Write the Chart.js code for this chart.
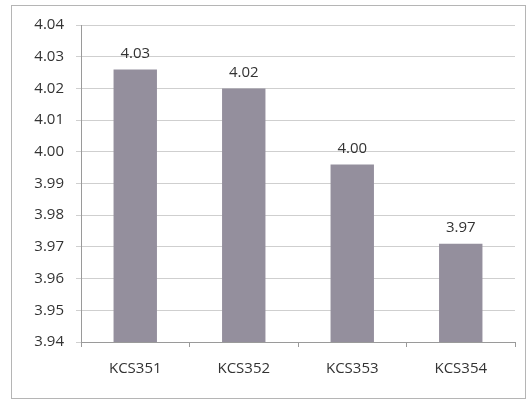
<!DOCTYPE html>
<html>
<head>
<meta charset="utf-8">
<script src="https://cdn.jsdelivr.net/npm/chart.js@4"></script>
<style>
html,body{margin:0;padding:0;background:#fff;}
#wrap{position:relative;width:527px;height:402px;}
</style>
</head>
<body>
<div id="wrap"><canvas id="c" width="527" height="402"></canvas></div>
<script>
const categories = ["KCS351", "KCS352", "KCS353", "KCS354"];
const values = [4.026, 4.020, 3.996, 3.971];
const yTickMin = 3.94;
const yTickMax = 4.04;
const yTickStep = 0.01;

const FONT = "'Open Sans', sans-serif";
const TEXT = "#333333";

const framePlugin = {
  id: 'frame',
  beforeDraw(chart) {
    const ctx = chart.ctx;
    ctx.save();
    ctx.fillStyle = '#ffffff';
    ctx.fillRect(0, 0, chart.width, chart.height);
    ctx.strokeStyle = '#b5b5b5';
    ctx.lineWidth = 1;
    ctx.strokeRect(11.5, 5.5, 514, 393);
    ctx.restore();
  }
};

const valueLabelPlugin = {
  id: 'valueLabels',
  afterDatasetsDraw(chart) {
    const ctx = chart.ctx;
    const meta = chart.getDatasetMeta(0);
    ctx.save();
    ctx.font = "15px " + FONT;
    ctx.fillStyle = TEXT;
    ctx.textAlign = 'center';
    ctx.textBaseline = 'bottom';
    meta.data.forEach((bar, i) => {
      const v = chart.data.datasets[0].data[i];
      ctx.fillText(v.toFixed(2), bar.x, bar.y - 8);
    });
    ctx.restore();
  }
};

new Chart(document.getElementById('c'), {
  type: 'bar',
  data: {
    labels: categories,
    datasets: [{
      data: values,
      backgroundColor: '#948f9d',
      borderWidth: 0,
      barPercentage: 0.4,
      categoryPercentage: 1.0
    }]
  },
  options: {
    responsive: false,
    animation: false,
    events: [],
    layout: { padding: { top: 25, right: 12, bottom: 0, left: 0 } },
    plugins: { legend: { display: false }, tooltip: { enabled: false } },
    scales: {
      x: {
        afterFit(scale) { scale.height = 60; },
        grid: { drawOnChartArea: false, offset: true, tickLength: 5, color: '#9a9a9a' },
        border: { color: '#9a9a9a' },
        ticks: { color: TEXT, font: { family: FONT, size: 15 }, padding: 13 }
      },
      y: {
        min: yTickMin,
        max: yTickMax,
        afterFit(scale) { scale.width = 81; },
        grid: { color: '#cfcfcf', tickLength: 5 },
        border: { color: '#9a9a9a' },
        ticks: {
          stepSize: yTickStep,
          color: TEXT,
          font: { family: FONT, size: 15 },
          padding: 12,
          callback: v => Number(v).toFixed(2)
        }
      }
    }
  },
  plugins: [framePlugin, valueLabelPlugin]
});
</script>
</body>
</html>
